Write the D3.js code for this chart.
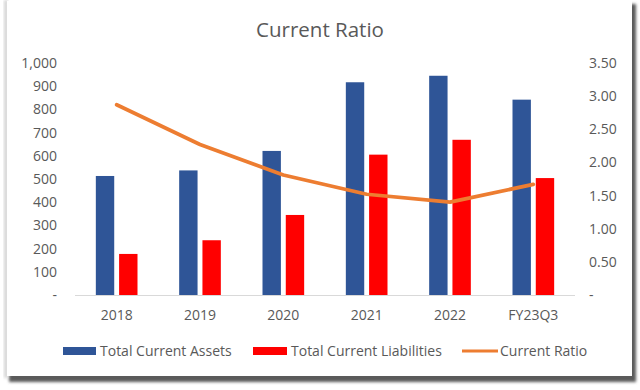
<!DOCTYPE html>
<html>
  <head>
    <meta charset="utf-8">
    <script type="text/javascript" src="https://d3js.org/d3.v7.min.js"></script>
    <title>Current Ratio</title>
  </head>
  <style media="screen">
    body { margin: 0; background: #fff; }
    text { font-family: "Open Sans", "Noto Sans", sans-serif; fill: #595959; }
  </style>
  <body>

    <script type="text/javascript">

    // data
    var categories = ["2018", "2019", "2020", "2021", "2022", "FY23Q3"];
    var assets = [513, 537, 621, 917, 945, 842];
    var liabilities = [177, 236, 345, 605, 669, 504];
    var ratio = [2.87, 2.27, 1.81, 1.52, 1.40, 1.67];
    var leftTicks = [0, 100, 200, 300, 400, 500, 600, 700, 800, 900, 1000];
    var rightTicks = [0, 0.5, 1, 1.5, 2, 2.5, 3, 3.5];

    var W = 640, H = 390;
    var plot = {left: 75, right: 575, top: 63, bottom: 295};

    var svg = d3.select("body").append("svg")
        .attr("width", W)
        .attr("height", H);

    // frame with shadow
    var defs = svg.append("defs");
    defs.append("filter")
        .attr("id", "blur")
        .attr("x", "-5%").attr("y", "-5%")
        .attr("width", "110%").attr("height", "110%")
      .append("feGaussianBlur")
        .attr("stdDeviation", 1.6);

    svg.append("rect")
        .attr("x", 9).attr("y", 4)
        .attr("width", 627).attr("height", 378)
        .attr("fill", "#5a5a5a")
        .attr("filter", "url(#blur)");
    svg.append("rect")
        .attr("x", 4).attr("y", 0)
        .attr("width", 4).attr("height", 378)
        .attr("fill", "#d6d6d6")
        .attr("filter", "url(#blur)");
    svg.append("rect")
        .attr("x", 7).attr("y", 1)
        .attr("width", 625).attr("height", 375)
        .attr("fill", "#ffffff");

    var x0 = d3.scaleBand()
        .domain(categories)
        .range([plot.left, plot.right])
        .paddingInner(0.5)
        .paddingOuter(0.25);

    var x1 = d3.scaleBand()
        .domain(["assets", "liabilities"])
        .range([0, x0.bandwidth()])
        .paddingInner(0.21);

    var y = d3.scaleLinear().domain([0, 1000]).range([plot.bottom, plot.top]);
    var y2 = d3.scaleLinear().domain([0, 3.5]).range([plot.bottom, plot.top]);

    // title
    svg.append("text")
        .attr("x", 320)
        .attr("y", 37)
        .attr("text-anchor", "middle")
        .style("font-size", "20.5px")
        .text("Current Ratio");

    // left axis
    var yAxis = d3.axisLeft(y)
        .tickValues(leftTicks)
        .tickSize(0)
        .tickPadding(0)
        .tickFormat(function(d) { return d === 0 ? "-" : d3.format(",")(d); });

    var gl = svg.append("g")
        .attr("transform", "translate(57,0)")
        .call(yAxis);
    gl.select(".domain").remove();
    gl.selectAll("text").style("font-size", "14px").attr("fill", "#595959");

    // right axis
    var y2Axis = d3.axisRight(y2)
        .tickValues(rightTicks)
        .tickSize(0)
        .tickPadding(0)
        .tickFormat(function(d) { return d === 0 ? "-" : d3.format(".2f")(d); });

    var gr = svg.append("g")
        .attr("transform", "translate(589,0)")
        .call(y2Axis);
    gr.select(".domain").remove();
    gr.selectAll("text").style("font-size", "14px").attr("fill", "#595959");

    // bars
    var groups = svg.append("g").selectAll("g")
        .data(categories)
      .enter().append("g")
        .attr("transform", function(d) { return "translate(" + x0(d) + ",0)"; });

    groups.append("rect")
        .attr("x", x1("assets"))
        .attr("width", x1.bandwidth())
        .attr("y", function(d, i) { return y(assets[i]); })
        .attr("height", function(d, i) { return plot.bottom - y(assets[i]); })
        .attr("fill", "#2F5597");

    groups.append("rect")
        .attr("x", x1("liabilities"))
        .attr("width", x1.bandwidth())
        .attr("y", function(d, i) { return y(liabilities[i]); })
        .attr("height", function(d, i) { return plot.bottom - y(liabilities[i]); })
        .attr("fill", "#FF0000");

    // baseline
    svg.append("line")
        .attr("x1", plot.left).attr("x2", plot.right)
        .attr("y1", plot.bottom + 0.5).attr("y2", plot.bottom + 0.5)
        .attr("stroke", "#d9d9d9")
        .attr("stroke-width", 1);

    // x axis labels
    var xAxis = d3.axisBottom(x0).tickSize(0).tickPadding(0);
    var gx = svg.append("g")
        .attr("transform", "translate(0,310)")
        .call(xAxis);
    gx.select(".domain").remove();
    gx.selectAll("text").style("font-size", "14px").attr("fill", "#595959");

    // ratio line
    var line = d3.line()
        .x(function(d, i) { return x0(categories[i]) + x0.bandwidth() / 2; })
        .y(function(d) { return y2(d); });

    svg.append("path")
        .datum(ratio)
        .attr("d", line)
        .attr("fill", "none")
        .attr("stroke", "#ED7D31")
        .attr("stroke-width", 3.75)
        .attr("stroke-linejoin", "round")
        .attr("stroke-linecap", "round");

    // legend
    var lg = svg.append("g").attr("transform", "translate(0,351)");

    lg.append("rect").attr("x", 63).attr("y", -4).attr("width", 33).attr("height", 8).attr("fill", "#2F5597");
    lg.append("text").attr("x", 100).attr("dy", "0.35em").style("font-size", "14px").text("Total Current Assets");

    lg.append("rect").attr("x", 253).attr("y", -4).attr("width", 34).attr("height", 8).attr("fill", "#FF0000");
    lg.append("text").attr("x", 291).attr("dy", "0.35em").style("font-size", "14px").text("Total Current Liabilities");

    lg.append("line").attr("x1", 462).attr("x2", 498).attr("y1", 0).attr("y2", 0)
        .attr("stroke", "#ED7D31").attr("stroke-width", 3);
    lg.append("text").attr("x", 500).attr("dy", "0.35em").style("font-size", "14px").text("Current Ratio");

    </script>

  </body>
</html>
